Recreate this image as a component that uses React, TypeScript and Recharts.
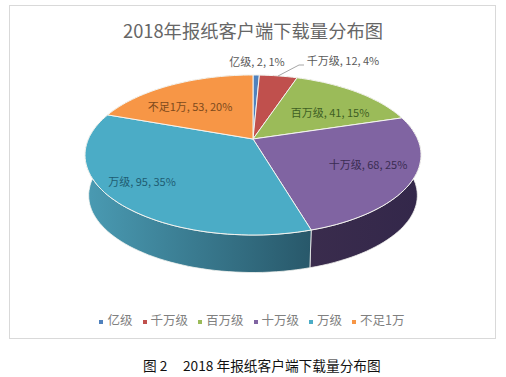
import { PieChart, Pie, Legend } from 'recharts';

// 2018 newspaper client download distribution, 3D pie drawn through a custom sector shape.
const categories = ['亿级', '千万级', '百万级', '十万级', '万级', '不足1万'];
const downloads = [2, 12, 41, 68, 95, 53];
const colors = ['#4f81bd', '#c0504d', '#9bbb59', '#8064a2', '#4bacc6', '#f79646'];
const wallLeft = ['#3b5f8c', '#8f3b39', '#738c42', '#3a2c4d', '#4a9bb3', '#b86f33'];
const wallRight = ['#3b5f8c', '#8f3b39', '#738c42', '#33274a', '#28586a', '#b86f33'];
const labelColors = ['#595959', '#595959', '#3f5f24', '#3a2c52', '#1f5c72', '#7d4a1c'];
const labelAnchors = [
  [257, 61],
  [343, 60],
  [330, 112],
  [368, 164],
  [142, 181],
  [190, 106],
];

const data = categories.map((name, i) => ({ name, value: downloads[i], fill: colors[i] }));

// perspective of the pie disc
const TILT = 0.2;
const TOP = { a: 164.6, b: 76.8, dy: 0 };
const BASE = { a: 161, b: 74, dy: 41 };

function project(cx: number, cy: number, deg: number, p: typeof TOP) {
  // deg is the recharts angle: 90 at 12 o'clock, going clockwise as it falls
  const t = ((90 - deg) * Math.PI) / 180;
  const u = Math.sin(t);
  const v = Math.cos(t);
  const d = 1 + TILT * v;
  return [cx + (p.a * u) / d, cy + p.dy - (p.b * v) / d];
}

function arcPoints(cx: number, cy: number, from: number, to: number, p: typeof TOP) {
  const n = Math.max(2, Math.ceil(Math.abs(to - from) / 2));
  const pts = [];
  for (let i = 0; i <= n; i++) {
    pts.push(project(cx, cy, from + ((to - from) * i) / n, p));
  }
  return pts;
}

const toPath = (pts: number[][]) =>
  pts.map((q, i) => `${i ? 'L' : 'M'}${q[0].toFixed(1)},${q[1].toFixed(1)}`).join(' ') + ' Z';

function TopFace(props: any) {
  const { cx, cy, startAngle, endAngle, fill } = props;
  const pts = [[cx, cy], ...arcPoints(cx, cy, startAngle, endAngle, TOP)];
  return <path d={toPath(pts)} fill={fill} stroke="#f4f4f0" strokeWidth={1} strokeLinejoin="round" />;
}

function WallFace(props: any) {
  const { cx, cy, startAngle, endAngle, index } = props;
  const rim = arcPoints(cx, cy, startAngle, endAngle, TOP);
  const base = arcPoints(cx, cy, startAngle, endAngle, BASE).reverse();
  const id = `wall-${index}`;
  return (
    <g>
      <defs>
        <linearGradient id={id} x1="0" y1="0" x2="1" y2="0">
          <stop offset="0%" stopColor={wallLeft[index]} />
          <stop offset="100%" stopColor={wallRight[index]} />
        </linearGradient>
      </defs>
      <path d={toPath([...rim, ...base])} fill={`url(#${id})`} stroke="#f4f4f0" strokeWidth={0.8} />
    </g>
  );
}

function SliceLabel(props: any) {
  const { index, name, value, percent } = props;
  const [x, y] = labelAnchors[index];
  return (
    <g>
      {index === 1 && <polyline points="278,76 299,65 304,65" fill="none" stroke="#a6a6a6" strokeWidth={1} />}
      <text x={x} y={y} textAnchor="middle" dominantBaseline="central" fontSize={11} fill={labelColors[index]}>
        {`${name}, ${value}, ${Math.round(percent * 100)}%`}
      </text>
    </g>
  );
}

export default function App() {
  return (
    <div
      style={{
        position: 'absolute',
        left: 0,
        top: 0,
        width: 506,
        height: 377,
        background: '#fff',
        fontFamily: '"Noto Sans CJK SC", sans-serif',
      }}
    >
      <PieChart width={506} height={377} margin={{ top: 0, right: 0, bottom: 0, left: 0 }}>
        <rect x={9.5} y={5.5} width={486} height={333} fill="#fff" stroke="#d9d9d9" />
        <text x={253} y={30} textAnchor="middle" dominantBaseline="central" fontSize={18.3} fill="#666">
          2018年报纸客户端下载量分布图
        </text>
        <text x={143} y={365} dominantBaseline="central" fontSize={13.7} fill="#111">
          图 2
        </text>
        <text x={183} y={365} dominantBaseline="central" fontSize={13.7} fill="#111">
          2018 年报纸客户端下载量分布图
        </text>
        <Pie
          data={data}
          dataKey="value"
          nameKey="name"
          cx={253}
          cy={139}
          outerRadius={100}
          startAngle={90}
          endAngle={-270}
          legendType="none"
          shape={WallFace}
          label={false}
          labelLine={false}
          isAnimationActive={false}
        />
        <Pie
          data={data}
          dataKey="value"
          nameKey="name"
          cx={253}
          cy={139}
          outerRadius={100}
          startAngle={90}
          endAngle={-270}
          shape={TopFace}
          label={SliceLabel}
          labelLine={false}
          isAnimationActive={false}
        />
        <Legend
          layout="horizontal"
          align="center"
          verticalAlign="bottom"
          iconType="square"
          iconSize={4}
          itemSorter={null}
          wrapperStyle={{ top: 310, bottom: 'auto', left: 4, width: 506, fontSize: 12.5 }}
          formatter={(v: string) => <span style={{ color: '#808080' }}>{v}</span>}
        />
      </PieChart>
    </div>
  );
}
